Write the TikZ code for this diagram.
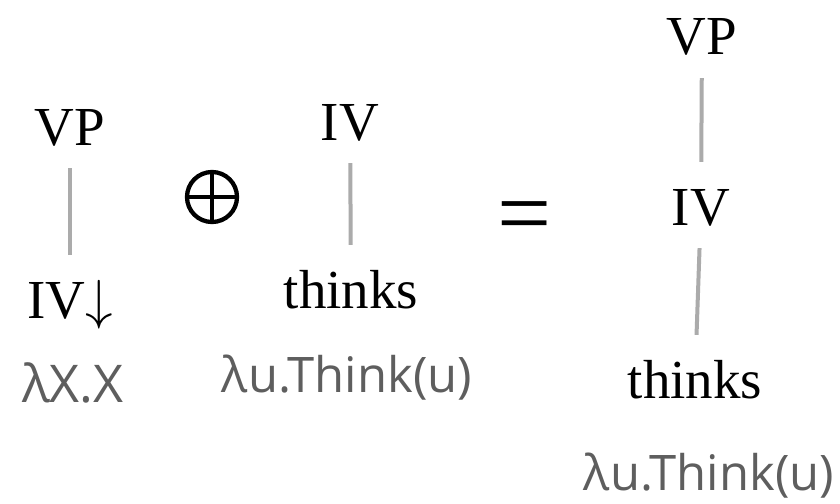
\documentclass[tikz,border=0pt]{standalone}
\usepackage{fontspec}
\setmainfont{Liberation Serif}
\newfontfamily\semfont{Open Sans}
\usetikzlibrary{positioning}
\definecolor{EdgeGray}{HTML}{ABABAB}
\definecolor{SemGray}{HTML}{5E5E5E}
\newcommand{\footmark}{\scalebox{5.5}{\normalsize$\downarrow$}}

\begin{document}
\begin{tikzpicture}[x=1pt, y=-1pt,
    cat/.style={anchor=base, inner sep=0pt, text height=38pt, text depth=0pt,
                font=\fontsize{55}{60}\selectfont},
    sem/.style={anchor=base, inner sep=0pt, text=SemGray,
                font=\semfont\fontsize{49}{54}\selectfont},
    edge/.style={draw=EdgeGray, line width=4pt, shorten <=23pt, shorten >=25pt},
    op/.style={circle, draw, line width=4.3pt, minimum size=50pt, inner sep=0pt, outer sep=0pt}
  ]
    \useasboundingbox (0,0) rectangle (840,503);

    % elementary tree with foot node
    \node[cat] (vpL)  at (70,145)  {VP};
    \node[cat] (ivL)  at (70,318)  {IV\footmark};
    \node[sem, font=\semfont\fontsize{52}{56}\selectfont] (semL) at (73,402) {λX.X};
    \draw[edge] (vpL) -- (ivL);

    \node[op] (oplus) at (212,197) {};
    \draw[line width=4.3pt] (oplus.north) -- (oplus.south) (oplus.west) -- (oplus.east);

    % lexical tree
    \node[cat] (ivM)  at (350,140) {IV};
    \node[cat] (thM)  at (351,308) {thinks};
    \node[sem] (semM) at (347,392) {λu.Think(u)};
    \draw[edge] (ivM) -- (thM);

    \node (eq) at (525,224) {\fontsize{96}{100}\selectfont =};

    % derived tree
    \node[cat] (vpR)  at (702,55)  {VP};
    \node[cat] (ivR)  at (701,225) {IV};
    \node[cat] (thR)  at (695,398) {thinks};
    \node[sem] (semR) at (709,490) {λu.Think(u)};
    \draw[edge] (vpR) -- (ivR);
    \draw[edge] (ivR) -- (thR);
  \end{tikzpicture}
\end{document}
